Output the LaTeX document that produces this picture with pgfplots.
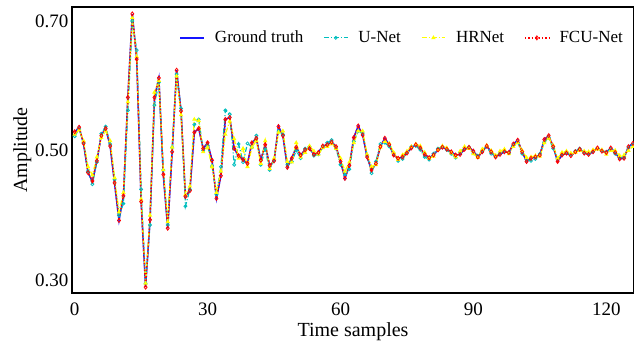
\documentclass[border=0pt]{standalone}
\usepackage{fontspec}
\setmainfont{Liberation Serif}
\usepackage{pgfplots}
\usepackage{pgfplotstable}
\pgfplotsset{compat=1.18}
\definecolor{gtblue}{RGB}{20,20,255}
\definecolor{uncyan}{RGB}{0,190,190}
\definecolor{hryellow}{RGB}{255,255,0}
\definecolor{fcred}{RGB}{255,0,0}
\pgfplotstableread{
t gt un hr fc
0 0.528 0.522 0.525 0.529
1 0.536 0.533 0.532 0.536
2 0.510 0.512 0.515 0.511
3 0.466 0.468 0.475 0.466
4 0.452 0.448 0.462 0.453
5 0.484 0.482 0.490 0.484
6 0.524 0.526 0.520 0.523
7 0.534 0.537 0.530 0.534
8 0.507 0.510 0.515 0.507
9 0.449 0.455 0.458 0.450
10 0.392 0.400 0.405 0.392
11 0.430 0.418 0.435 0.430
12 0.583 0.562 0.575 0.582
13 0.711 0.700 0.705 0.711
14 0.641 0.655 0.645 0.641
15 0.420 0.440 0.425 0.421
16 0.289 0.295 0.295 0.289
17 0.393 0.385 0.400 0.393
18 0.582 0.570 0.590 0.582
19 0.612 0.605 0.608 0.612
20 0.462 0.470 0.470 0.463
21 0.380 0.385 0.390 0.380
22 0.498 0.505 0.505 0.498
23 0.624 0.618 0.615 0.624
24 0.561 0.565 0.555 0.561
25 0.429 0.414 0.432 0.429
26 0.438 0.440 0.445 0.438
27 0.528 0.540 0.548 0.528
28 0.534 0.548 0.546 0.534
29 0.503 0.500 0.498 0.503
30 0.512 0.508 0.505 0.512
31 0.485 0.476 0.475 0.485
32 0.426 0.432 0.435 0.426
33 0.461 0.475 0.468 0.461
34 0.548 0.562 0.525 0.548
35 0.551 0.556 0.545 0.551
36 0.503 0.478 0.518 0.503
37 0.492 0.510 0.488 0.492
38 0.486 0.482 0.503 0.486
39 0.480 0.511 0.475 0.480
40 0.512 0.505 0.505 0.512
41 0.519 0.523 0.515 0.519
42 0.485 0.478 0.480 0.485
43 0.509 0.502 0.515 0.509
44 0.477 0.470 0.472 0.477
45 0.484 0.485 0.488 0.484
46 0.537 0.530 0.528 0.537
47 0.523 0.525 0.530 0.523
48 0.474 0.478 0.483 0.474
49 0.488 0.483 0.482 0.488
50 0.505 0.500 0.512 0.505
51 0.493 0.488 0.490 0.493
52 0.501 0.503 0.497 0.501
53 0.503 0.506 0.507 0.503
54 0.494 0.492 0.499 0.494
55 0.497 0.494 0.494 0.497
56 0.507 0.505 0.504 0.507
57 0.509 0.512 0.506 0.509
58 0.513 0.516 0.510 0.513
59 0.506 0.503 0.503 0.506
60 0.483 0.478 0.488 0.483
61 0.457 0.463 0.468 0.457
62 0.477 0.471 0.482 0.477
63 0.520 0.514 0.512 0.520
64 0.538 0.530 0.530 0.538
65 0.524 0.527 0.530 0.524
66 0.490 0.493 0.494 0.490
67 0.470 0.465 0.475 0.470
68 0.480 0.483 0.478 0.480
69 0.506 0.510 0.505 0.506
70 0.519 0.512 0.514 0.519
71 0.509 0.506 0.511 0.509
72 0.493 0.496 0.497 0.493
73 0.488 0.484 0.486 0.488
74 0.490 0.487 0.493 0.490
75 0.496 0.497 0.499 0.496
76 0.504 0.506 0.506 0.504
77 0.509 0.507 0.510 0.509
78 0.504 0.501 0.507 0.504
79 0.494 0.490 0.497 0.494
80 0.489 0.486 0.488 0.489
81 0.493 0.495 0.491 0.493
82 0.501 0.503 0.501 0.501
83 0.505 0.506 0.507 0.505
84 0.502 0.501 0.504 0.502
85 0.498 0.495 0.496 0.498
86 0.493 0.489 0.490 0.493
87 0.494 0.497 0.499 0.494
88 0.502 0.504 0.506 0.502
89 0.505 0.505 0.503 0.505
90 0.499 0.496 0.495 0.499
91 0.490 0.492 0.489 0.490
92 0.498 0.500 0.502 0.498
93 0.507 0.506 0.508 0.507
94 0.498 0.495 0.500 0.498
95 0.490 0.491 0.492 0.490
96 0.494 0.496 0.499 0.494
97 0.498 0.499 0.502 0.498
98 0.497 0.496 0.495 0.497
99 0.510 0.508 0.506 0.510
100 0.516 0.513 0.512 0.516
101 0.498 0.495 0.500 0.498
102 0.483 0.486 0.489 0.483
103 0.488 0.484 0.490 0.488
104 0.490 0.487 0.492 0.490
105 0.493 0.495 0.491 0.493
106 0.517 0.513 0.512 0.517
107 0.523 0.520 0.519 0.523
108 0.506 0.503 0.508 0.506
109 0.483 0.487 0.488 0.483
110 0.493 0.495 0.497 0.493
111 0.496 0.497 0.499 0.496
112 0.492 0.494 0.496 0.492
113 0.498 0.499 0.497 0.498
114 0.502 0.503 0.500 0.502
115 0.496 0.497 0.499 0.496
116 0.494 0.495 0.498 0.494
117 0.498 0.499 0.501 0.498
118 0.504 0.503 0.502 0.504
119 0.499 0.500 0.501 0.499
120 0.497 0.498 0.494 0.497
121 0.504 0.502 0.500 0.504
122 0.497 0.495 0.500 0.497
123 0.487 0.489 0.492 0.487
124 0.488 0.490 0.493 0.488
125 0.506 0.504 0.500 0.506
126 0.511 0.509 0.506 0.511
}\datatab

\begin{document}
\begin{tikzpicture}
\begin{axis}[
  scale only axis, width=562pt, height=286pt,
  xmin=-0.61, xmax=126.25, ymin=0.28, ymax=0.7216,
  xtick={0,30,60,90,120}, ytick={0.30,0.50,0.70},
  yticklabel style={/pgf/number format/.cd, fixed, fixed zerofill, precision=2},
  xticklabel style={yshift=-6pt},
  /pgf/number format/assume math mode=true,
  tick label style={font=\fontsize{19}{22}\selectfont},
  label style={font=\fontsize{20}{24}\selectfont},
  major tick length=0pt,
  axis line style={line width=1.2pt},
  xlabel={Time samples}, ylabel={Amplitude},
  xlabel style={yshift=0pt},
  ylabel style={yshift=-3pt},
  legend style={at={(1,1)}, anchor=north east, xshift=-6pt, yshift=-20pt,
    draw=none, fill=none, font=\fontsize{17}{20}\selectfont,
    /tikz/every odd column/.append style={column sep=8pt},
    /tikz/every even column/.append style={column sep=18pt}},
  legend columns=4,
  legend image code/.code={\draw[mark repeat=2,mark phase=2,#1] plot coordinates {(0cm,0cm) (0.42cm,0cm) (0.84cm,0cm)};},
]
\addplot[color=gtblue, line width=1.5pt, mark=none] table[x=t, y=gt] {\datatab};
\addlegendentry{Ground truth}
\addplot[color=uncyan, line width=1.2pt, dash pattern=on 5pt off 2pt on 1pt off 2pt, mark=o, mark size=1.5pt, mark options={solid, line width=0.8pt}] table[x=t, y=un] {\datatab};
\addlegendentry{U-Net}
\addplot[color=hryellow, line width=1.3pt, dash pattern=on 5pt off 2pt on 1pt off 2pt, mark=triangle*, mark size=1.3pt, mark options={solid}] table[x=t, y=hr] {\datatab};
\addlegendentry{HRNet}
\addplot[color=fcred, line width=1.4pt, dotted, mark=diamond, mark size=2pt, mark options={solid, line width=0.8pt}] table[x=t, y=fc] {\datatab};
\addlegendentry{FCU-Net}
\end{axis}
\path (current axis.south west) ++(-72pt,-50pt) coordinate (bl);
\path (current axis.north east) ++(0pt,7pt) coordinate (tr);
\pgfresetboundingbox
\path (bl) rectangle (tr);
\end{tikzpicture}
\end{document}
